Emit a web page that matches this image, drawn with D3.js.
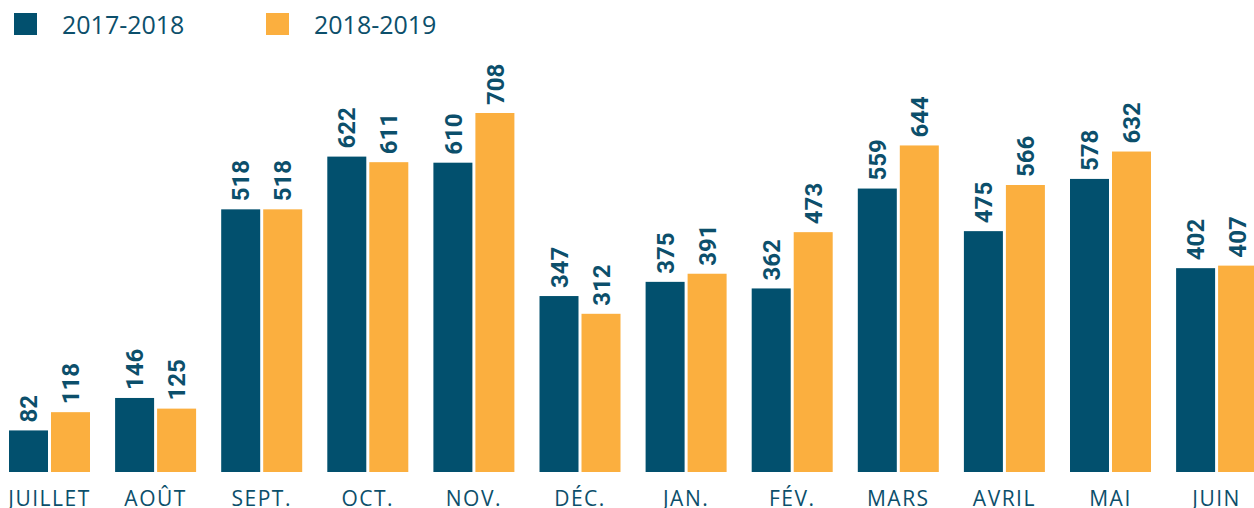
<!DOCTYPE html>
<html><head><meta charset="utf-8">
<script src="https://cdn.jsdelivr.net/npm/d3@7"></script>
<style>body{margin:0;background:#fff}svg{display:block}</style>
</head><body>
<svg id="c" width="1254" height="508"></svg>
<script>
const months = ["JUILLET","AOÛT","SEPT.","OCT.","NOV.","DÉC.","JAN.","FÉV.","MARS","AVRIL","MAI","JUIN"];
const series = ["2017-2018","2018-2019"];
const values2017 = [82,146,518,622,610,347,375,362,559,475,578,402];
const values2018 = [118,125,518,611,708,312,391,473,644,566,632,407];
const colors = ["#02506e","#fbaf3f"];
const textColor = "#0c4f6b";

const svg = d3.select("#c");
const step = 106.1, groupW = 81;
const x0 = d3.scaleBand().domain(months).range([9, 9 + step*11 + groupW]).paddingInner((step-groupW)/step).paddingOuter(0);
const x1 = d3.scaleBand().domain(series).range([0, groupW]).paddingInner(3/42).paddingOuter(0);
const y = d3.scaleLinear().domain([0, 708]).range([472, 113]);
const color = d3.scaleOrdinal().domain(series).range(colors);

const data = months.map((m,i)=>({m, vals:[{s:series[0],v:values2017[i]},{s:series[1],v:values2018[i]}]}));

const g = svg.selectAll("g.grp").data(data).join("g").attr("class","grp")
  .attr("transform", d=>`translate(${x0(d.m)},0)`);
g.selectAll("rect").data(d=>d.vals).join("rect")
  .attr("x", d=>x1(d.s)).attr("width", x1.bandwidth())
  .attr("y", d=>y(d.v)).attr("height", d=>y(0)-y(d.v))
  .attr("fill", d=>color(d.s));
g.selectAll("text").data(d=>d.vals).join("text")
  .attr("transform", d=>`translate(${x1(d.s)+x1.bandwidth()/2},${y(d.v)-8}) rotate(-90)`)
  .attr("dy","0.36em")
  .attr("text-anchor","start")
  .attr("font-family","Roboto, sans-serif").attr("font-weight","bold").attr("font-size",24)
  .attr("fill", textColor)
  .text(d=>d.v);

const ax = svg.append("g").attr("transform","translate(0,472)")
  .call(d3.axisBottom(x0).tickSize(0).tickPadding(0));
ax.select(".domain").remove();
ax.selectAll("text").attr("font-family","'Open Sans', sans-serif").attr("font-size",21)
  .attr("fill",textColor).attr("dy",0).attr("y",34).attr("letter-spacing","1.5px");

const leg = svg.append("g");
const legX = [14, 266];
series.forEach((s,i)=>{
  leg.append("rect").attr("x",legX[i]).attr("y",13).attr("width",23).attr("height",22).attr("fill",colors[i]);
  leg.append("text").attr("x",legX[i]+48).attr("y",34).attr("font-family","'Open Sans', sans-serif")
    .attr("font-size",25).attr("fill",textColor).text(s);
});
</script>
</body></html>
